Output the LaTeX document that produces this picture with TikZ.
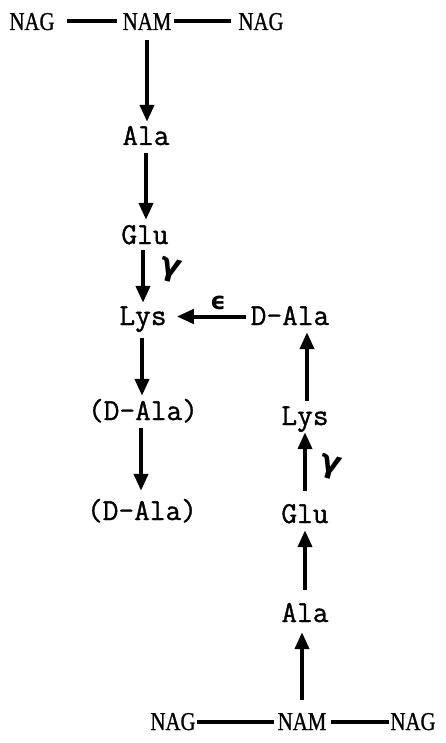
\documentclass[tikz,border=0pt]{standalone}
\usepackage{fontspec}
\setmainfont{Liberation Serif}
\newfontfamily\sugarfont[FakeStretch=0.81,FakeBold=0.8]{Liberation Serif}
\newfontfamily\aafont[FakeBold=1.1]{Latin Modern Mono}
\newfontfamily\greekfont{DejaVu Sans}
\usetikzlibrary{arrows.meta}
\begin{document}
\begin{tikzpicture}[x=1pt,y=-1pt,
  sugar/.style={anchor=base,inner sep=0pt,text height=17pt,text depth=0pt,
    font=\sugarfont\fontsize{25.7}{26}\selectfont},
  amino/.style={anchor=base,inner sep=0pt,text height=17pt,text depth=0pt,
    font=\aafont\fontsize{30.5}{31}\selectfont},
  enz/.style={inner sep=0pt,font=\greekfont\bfseries\fontsize{31}{32}\selectfont},
  bond/.style={line width=4pt},
  arr/.style={line width=4pt,-{Triangle[length=17pt,width=14pt]}}]
\useasboundingbox (0,0) rectangle (445,743);

% upper glycan strand and its peptide stem
\node[sugar] (nagA) at (32,30) {NAG};
\node[sugar] (namA) at (147,30) {NAM};
\node[sugar] (nagB) at (261,30) {NAG};
\node[amino] (alaA) at (146,145) {Ala};
\node[amino] (gluA) at (145,244) {Glu};
\node[amino] (lysA) at (143,325) {Lys};
\node[amino] (dalaA) at (143,420) {(D-Ala)};
\node[amino] (dalaB) at (142,520) {(D-Ala)};

% lower glycan strand and its peptide stem
\node[sugar] (nagC) at (173,730) {NAG};
\node[sugar] (namB) at (302,730) {NAM};
\node[sugar] (nagD) at (413,730) {NAG};
\node[amino] (alaB) at (305,622) {Ala};
\node[amino] (gluB) at (305,523) {Glu};
\node[amino] (lysB) at (305,425) {Lys};
\node[amino] (dalaC) at (290,325) {D-Ala};

% glycosidic bonds
\draw[bond,shorten <=12pt,shorten >=6pt] (nagA.east) -- (namA.west);
\draw[bond,shorten <=3pt,shorten >=7pt] (namA.east) -- (nagB.west);
\draw[bond,shorten <=1pt,shorten >=4pt] (nagC.east) -- (namB.west);
\draw[bond,shorten <=5pt,shorten >=1pt] (namB.east) -- (nagD.west);

% upper stem
\draw[arr,shorten <=10pt,shorten >=6pt] (namA.south) -- (namA.south |- alaA.north);
\draw[arr,shorten <=8pt,shorten >=7pt] (alaA.south) -- (alaA.south |- gluA.north);
\draw[arr,shorten <=6pt,shorten >=5pt] ([xshift=-2pt]gluA.south) -- ([xshift=-2pt]gluA.south |- lysA.north);
\draw[arr,shorten <=13pt,shorten >=7pt] ([xshift=-1pt]lysA.south) -- ([xshift=-1pt]lysA.south |- dalaA.north);
\draw[arr,shorten <=8pt,shorten >=12pt] ([xshift=-2pt]dalaA.south) -- ([xshift=-2pt]dalaA.south |- dalaB.north);

% lower stem
\draw[arr,shorten <=13pt,shorten >=10pt] (namB.north) -- (namB.north |- alaB.south);
\draw[arr,shorten <=15pt,shorten >=7pt] (alaB.north) -- (alaB.north |- gluB.south);
\draw[arr,shorten <=15pt,shorten >=7pt] (gluB.north) -- (gluB.north |- lysB.south);
\draw[arr,shorten <=7pt,shorten >=7pt] ([xshift=2pt]lysB.north) -- ([xshift=2pt]lysB.north |- dalaC.south);

% cross-link
\draw[arr,shorten <=5pt,shorten >=10pt] (dalaC.west) -- (dalaC.west -| lysA.east);

% enzyme cleavage sites
\node[enz,rotate=-15] (gamA) at (170,270) {γ};
\node[enz,rotate=-15] (gamB) at (330,467) {γ};
\node[enz,font=\greekfont\bfseries\fontsize{24}{25}\selectfont] (eps) at (218,303) {ϵ};
\end{tikzpicture}
\end{document}
